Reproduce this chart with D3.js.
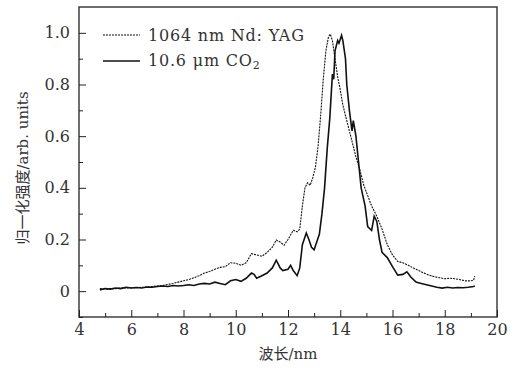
<!DOCTYPE html>
<html>
<head>
<meta charset="utf-8">
<script src="https://cdn.jsdelivr.net/npm/d3@7"></script>
<style>
  body { margin: 0; background: #fff; }
  svg text { font-family: "DejaVu Serif", serif; fill: #333; }
</style>
</head>
<body>
<div id="chart"></div>
<script>
// 1064 nm Nd:YAG (dashed)
const yagX = [4.8, 5.0, 5.2, 5.4, 5.6, 5.8, 6.0, 6.2, 6.4, 6.6, 6.8, 7.0, 7.2, 7.4, 7.6, 7.8, 8.0, 8.2, 8.4, 8.6, 8.8, 9.0, 9.2, 9.4, 9.6, 9.8, 10.0, 10.2, 10.4, 10.6, 10.8, 11.0, 11.2, 11.4, 11.55, 11.7, 11.85, 12.0, 12.2, 12.35, 12.45, 12.55, 12.65, 12.75, 12.85, 12.95, 13.05, 13.15, 13.25, 13.35, 13.45, 13.55, 13.62, 13.7, 13.8, 13.9, 14.0, 14.1, 14.2, 14.3, 14.45, 14.6, 14.75, 14.9, 15.05, 15.2, 15.4, 15.6, 15.8, 16.0, 16.2, 16.4, 16.6, 16.8, 17.0, 17.2, 17.4, 17.6, 17.8, 18.0, 18.2, 18.4, 18.6, 18.8, 19.0, 19.1, 19.15];
const yagY = [0.01, 0.008, 0.01, 0.01, 0.012, 0.012, 0.013, 0.014, 0.015, 0.016, 0.018, 0.02, 0.022, 0.026, 0.03, 0.035, 0.04, 0.045, 0.052, 0.06, 0.07, 0.076, 0.085, 0.092, 0.095, 0.11, 0.108, 0.1, 0.11, 0.145, 0.14, 0.135, 0.15, 0.17, 0.198, 0.19, 0.178, 0.2, 0.236, 0.23, 0.24, 0.33, 0.4, 0.42, 0.41, 0.44, 0.48, 0.56, 0.68, 0.82, 0.93, 0.985, 0.995, 0.97, 0.9, 0.83, 0.78, 0.72, 0.68, 0.64, 0.58, 0.52, 0.47, 0.41, 0.37, 0.33, 0.29, 0.24, 0.18, 0.14, 0.115, 0.11, 0.1, 0.09, 0.08, 0.07, 0.062, 0.056, 0.052, 0.048, 0.05, 0.048, 0.044, 0.04, 0.04, 0.042, 0.058];

// 10.6 um CO2 (solid)
const co2X = [4.8, 5.0, 5.2, 5.4, 5.6, 5.8, 6.0, 6.2, 6.4, 6.6, 6.8, 7.0, 7.2, 7.4, 7.6, 7.8, 8.0, 8.2, 8.4, 8.6, 8.8, 9.0, 9.2, 9.4, 9.6, 9.8, 10.0, 10.2, 10.4, 10.6, 10.7, 10.8, 11.0, 11.2, 11.4, 11.55, 11.7, 11.8, 12.0, 12.1, 12.2, 12.35, 12.45, 12.55, 12.7, 12.8, 12.9, 13.0, 13.1, 13.2, 13.3, 13.4, 13.5, 13.6, 13.7, 13.75, 13.8, 13.9, 13.95, 14.05, 14.1, 14.2, 14.25, 14.35, 14.45, 14.5, 14.6, 14.7, 14.8, 14.95, 15.05, 15.2, 15.3, 15.4, 15.5, 15.6, 15.8, 16.0, 16.2, 16.4, 16.55, 16.7, 16.9, 17.1, 17.3, 17.5, 17.7, 17.9, 18.1, 18.3, 18.5, 18.7, 18.9, 19.1, 19.15];
const co2Y = [0.005, 0.01, 0.008, 0.012, 0.01, 0.015, 0.012, 0.014, 0.012, 0.016, 0.015, 0.018, 0.02, 0.018, 0.022, 0.02, 0.022, 0.025, 0.022, 0.028, 0.03, 0.028, 0.035, 0.03, 0.025, 0.04, 0.045, 0.038, 0.05, 0.07, 0.065, 0.05, 0.06, 0.07, 0.09, 0.12, 0.09, 0.08, 0.085, 0.1, 0.08, 0.06, 0.09, 0.18, 0.225, 0.2, 0.17, 0.16, 0.19, 0.22, 0.3, 0.4, 0.55, 0.67, 0.84, 0.82, 0.93, 0.97, 0.96, 0.99, 0.97, 0.9, 0.8, 0.7, 0.62, 0.66, 0.6, 0.5, 0.4, 0.33, 0.25, 0.235, 0.29, 0.27, 0.2, 0.15, 0.13, 0.095, 0.062, 0.065, 0.075, 0.055, 0.035, 0.03, 0.025, 0.02, 0.015, 0.012, 0.015, 0.012, 0.014, 0.013, 0.015, 0.018, 0.02];

const xTicks = [4, 6, 8, 10, 12, 14, 16, 18, 20];
const yTicks = [0, 0.2, 0.4, 0.6, 0.8, 1.0];

const width = 518, height = 372;
const margin = {top: 7, right: 21, bottom: 55, left: 79};

const svg = d3.select("#chart").append("svg")
    .attr("width", width)
    .attr("height", height);

const x = d3.scaleLinear().domain([4, 20]).range([margin.left, width - margin.right]);
const y = d3.scaleLinear().domain([-0.1, 1.1]).range([height - margin.bottom, margin.top]);

// minor ticks
svg.append("g")
    .attr("transform", `translate(0,${height - margin.bottom})`)
    .call(d3.axisBottom(x).tickValues(d3.range(5, 20, 2)).tickSize(-4).tickFormat(""))
    .call(g => g.select(".domain").remove());
svg.append("g")
    .attr("transform", `translate(${margin.left},0)`)
    .call(d3.axisLeft(y).tickValues([-0.1, 0.1, 0.3, 0.5, 0.7, 0.9]).tickSize(-4).tickFormat(""))
    .call(g => g.select(".domain").remove());

// major ticks
svg.append("g")
    .attr("transform", `translate(0,${height - margin.bottom})`)
    .call(d3.axisBottom(x).tickValues(xTicks).tickSize(-7).tickPadding(7).tickFormat(d3.format("d")))
    .call(g => g.select(".domain").remove())
    .call(g => g.selectAll("text").attr("font-size", 16).attr("font-family", "DejaVu Serif").attr("fill", "#333"));
svg.append("g")
    .attr("transform", `translate(${margin.left},0)`)
    .call(d3.axisLeft(y).tickValues(yTicks).tickSize(-7).tickPadding(9)
        .tickFormat(d => d === 0 ? "0" : d3.format(".1f")(d)))
    .call(g => g.select(".domain").remove())
    .call(g => g.selectAll("text").attr("font-size", 16).attr("font-family", "DejaVu Serif").attr("fill", "#333"));

svg.selectAll(".tick line").attr("stroke", "#222");

// frame
svg.append("rect")
    .attr("x", margin.left).attr("y", margin.top)
    .attr("width", width - margin.left - margin.right)
    .attr("height", height - margin.top - margin.bottom)
    .attr("fill", "none").attr("stroke", "#222").attr("stroke-width", 1.3);

const line = d3.line().x(d => x(d[0])).y(d => y(d[1]));

svg.append("path")
    .datum(d3.zip(yagX, yagY))
    .attr("d", line)
    .attr("fill", "none")
    .attr("stroke", "#111")
    .attr("stroke-width", 1.1)
    .attr("stroke-dasharray", "2,1");

svg.append("path")
    .datum(d3.zip(co2X, co2Y))
    .attr("d", line)
    .attr("fill", "none")
    .attr("stroke", "#111")
    .attr("stroke-width", 1.6);

// legend
const leg = svg.append("g");
leg.append("line").attr("x1", 103).attr("x2", 140).attr("y1", 35).attr("y2", 35)
    .attr("stroke", "#111").attr("stroke-width", 1.1).attr("stroke-dasharray", "2,1");
leg.append("text").attr("x", 148).attr("y", 41).attr("font-size", 16)
    .attr("letter-spacing", 0.8).text("1064 nm Nd: YAG");
leg.append("line").attr("x1", 103).attr("x2", 140).attr("y1", 61).attr("y2", 61)
    .attr("stroke", "#111").attr("stroke-width", 1.6);
const t2 = leg.append("text").attr("x", 148).attr("y", 66).attr("font-size", 16).attr("letter-spacing", 0.8);
t2.append("tspan").text("10.6 μm CO");
t2.append("tspan").attr("font-size", 11).attr("dy", 3).text("2");

// axis titles
svg.append("text")
    .attr("x", (margin.left + width - margin.right) / 2)
    .attr("y", 359)
    .attr("text-anchor", "middle")
    .attr("font-size", 15)
    .html('<tspan font-family="Noto Sans CJK SC">波长</tspan>/nm');

svg.append("text")
    .attr("transform", `translate(28,${(margin.top + height - margin.bottom) / 2 + 6}) rotate(-90)`)
    .attr("text-anchor", "middle")
    .attr("font-size", 15)
    .html('<tspan font-family="Noto Sans CJK SC">归一化强度</tspan>/arb. units');
</script>
</body>
</html>
